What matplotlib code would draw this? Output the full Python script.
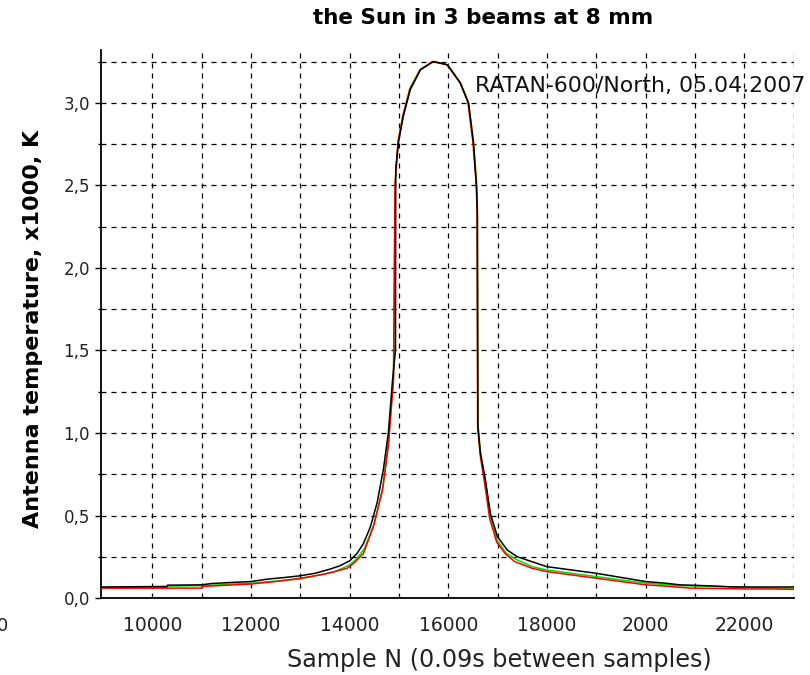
import matplotlib.pyplot as plt
from matplotlib.ticker import FixedLocator, MultipleLocator

plt.rcParams["font.family"] = ["DejaVu Sans"]

# beam scans, antenna temperature in units of 1000 K
x_black = [8960, 10300, 10310, 11000, 11200, 11650, 12000, 12350, 12700, 13000,
           13300, 13600, 13800, 14000, 14150, 14280, 14420, 14560, 14685, 14785,
           14870, 14930, 14935, 14990, 15090, 15230, 15435, 15700, 15980, 16245,
           16410, 16510, 16570, 16590, 16600, 16650, 16750, 16855, 17000, 17200,
           17400, 17700, 18000, 18500, 19000, 19500, 20000, 20400, 20700, 21200,
           21800, 22400, 23000]
y_black = [0.067, 0.07, 0.078, 0.08, 0.088, 0.095, 0.10, 0.115, 0.125, 0.135,
           0.15, 0.175, 0.195, 0.225, 0.27, 0.33, 0.43, 0.58, 0.78, 1.0,
           1.32, 1.5, 2.6, 2.76, 2.92, 3.08, 3.2, 3.25, 3.23, 3.12,
           3.0, 2.76, 2.5, 2.33, 1.04, 0.88, 0.72, 0.51, 0.37, 0.29,
           0.25, 0.22, 0.19, 0.17, 0.15, 0.125, 0.10, 0.09, 0.08, 0.075,
           0.067, 0.067, 0.067]

x_red = [8960, 11000, 11010, 12000, 12500, 13000, 13500, 13950, 14100, 14280,
         14480, 14665, 14785, 14890, 14920, 14980, 15080, 15220, 15430, 15680,
         15980, 16240, 16400, 16500, 16570, 16585, 16595, 16650, 16740, 16840,
         16980, 17150, 17350, 17700, 18000, 18500, 19000, 19500, 20000, 20500,
         20900, 21500, 22000, 22600, 23000]
y_red = [0.06, 0.06, 0.07, 0.085, 0.10, 0.12, 0.145, 0.18, 0.215, 0.27,
         0.43, 0.65, 0.92, 1.32, 2.5, 2.76, 2.92, 3.08, 3.2, 3.25,
         3.23, 3.12, 3.0, 2.76, 2.5, 2.33, 1.04, 0.86, 0.69, 0.48,
         0.34, 0.27, 0.22, 0.18, 0.16, 0.14, 0.12, 0.10, 0.08, 0.07,
         0.06, 0.058, 0.055, 0.055, 0.052]

x_green = [8960, 10300, 10310, 11000, 12000, 13000, 13700, 14000, 14150, 14300,
           14500, 14680, 14790, 14890, 14925, 14985, 15085, 15225, 15430, 15690,
           15990, 16250, 16410, 16510, 16575, 16590, 16600, 16655, 16750, 16850,
           16990, 17180, 17400, 17700, 18000, 18500, 19000, 19500, 20000, 20700,
           21500, 22500, 23000]
y_green = [0.063, 0.065, 0.072, 0.075, 0.09, 0.115, 0.16, 0.2, 0.24, 0.3,
           0.45, 0.68, 0.95, 1.35, 2.52, 2.77, 2.93, 3.09, 3.2, 3.25,
           3.23, 3.12, 3.0, 2.77, 2.52, 2.36, 1.06, 0.88, 0.71, 0.5,
           0.35, 0.27, 0.23, 0.19, 0.17, 0.15, 0.13, 0.11, 0.09, 0.075,
           0.07, 0.06, 0.06]

x_ticks = [10000, 12000, 14000, 16000, 18000, 20000, 22000]
x_tick_labels = ["10000", "12000", "14000", "16000", "18000", "2000", "22000"]
x_minor = [11000, 13000, 15000, 17000, 19000, 21000, 23000]
y_ticks = [0.0, 0.5, 1.0, 1.5, 2.0, 2.5, 3.0]
y_tick_labels = ["0,0", "0,5", "1,0", "1,5", "2,0", "2,5", "3,0"]

fig = plt.figure(figsize=(8.1, 6.75), dpi=100)
ax = fig.add_axes([0.1247, 0.114, 0.855, 0.812])

ax.plot(x_red, y_red, color="red", lw=1.1, zorder=3)
ax.plot(x_green, y_green, color="#00dd00", lw=1.1, zorder=2)
ax.plot(x_black, y_black, color="black", lw=1.1, zorder=4)

ax.set_xlim(8960, 23000)
ax.set_ylim(0, 3.32)

ax.xaxis.set_major_locator(FixedLocator(x_ticks))
ax.set_xticklabels(x_tick_labels, fontsize=13.5, color="#222222")
ax.xaxis.set_minor_locator(FixedLocator(x_minor))
ax.yaxis.set_major_locator(FixedLocator(y_ticks))
ax.set_yticklabels(y_tick_labels, fontsize=12, color="#222222")
ax.yaxis.set_minor_locator(MultipleLocator(0.25))

ax.tick_params(axis="x", which="both", length=0, pad=13)
ax.tick_params(axis="y", which="major", length=4, width=1, pad=4)
ax.tick_params(axis="y", which="minor", length=2, width=1)

ax.grid(True, which="both", color="black", linestyle=(0, (4, 4)), linewidth=0.9)
ax.set_axisbelow(True)

for side in ["top", "right"]:
    ax.spines[side].set_visible(False)
ax.spines["left"].set_linewidth(1.3)
ax.spines["bottom"].set_linewidth(1.3)

ax.text(16550, 3.1, "RATAN-600/North, 05.04.2007", fontsize=15.8,
        color="#111111", va="center", ha="left", clip_on=False, zorder=5)

fig.text(0.597, 0.973, "the Sun in 3 beams at 8 mm", fontsize=15.5,
         fontweight="bold", ha="center", va="center")
fig.text(0.617, 0.022, "Sample N (0.09s between samples)", fontsize=17.2,
         color="#222222", ha="center", va="center")
fig.text(0.041, 0.512, "Antenna temperature, x1000, K", fontsize=16,
         fontweight="bold", rotation=90, ha="center", va="center")
fig.text(-0.004, 0.072, "0", fontsize=13, ha="left", va="center", color="#222222")

fig.savefig("out.png", dpi=100)
